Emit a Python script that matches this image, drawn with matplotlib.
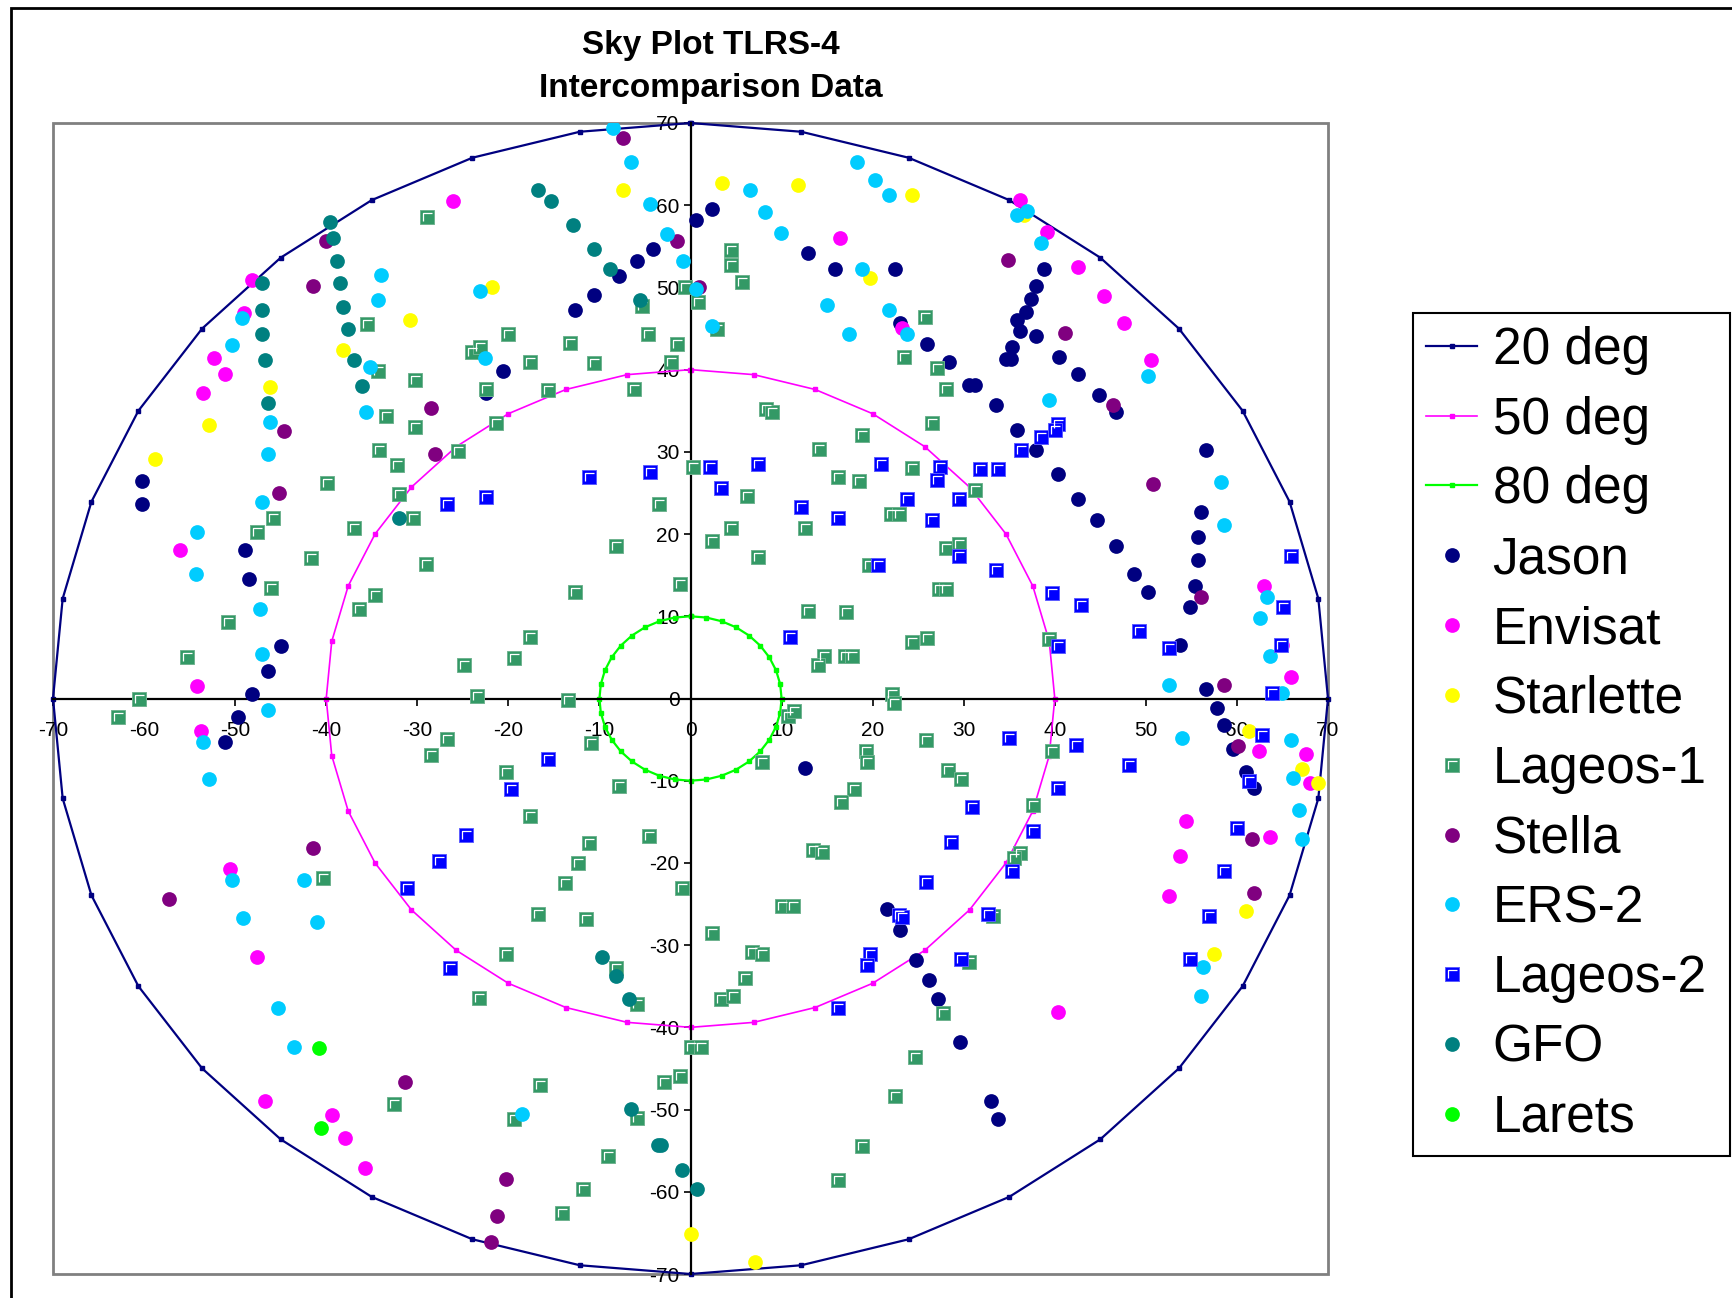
import numpy as np
import matplotlib
matplotlib.use('Agg')
import matplotlib.pyplot as plt
from matplotlib.path import Path
from matplotlib.patches import Rectangle

plt.rcParams['font.family'] = ['Liberation Sans', 'DejaVu Sans']
plt.rcParams['axes.unicode_minus'] = False

# elevation mask rings: radius on the plot is 90 - elevation, vertices every 10 deg azimuth
mask_elev = [20, 50, 80]
mask_names = ['20 deg', '50 deg', '80 deg']
mask_colors = ['#000080', '#FF00FF', '#00FF00']
mask_widths = [1.6, 1.2, 1.6]
azimuth = np.arange(0, 361, 10)

# pass points (x = east, y = north)
jason_x = [-60.2, -60.2, -48.9, -48.5, -45.0, -46.4, -48.2, -22.5,
           0.6, 2.4, -4.1, -5.9, -7.9, -10.6, -12.7, -20.6, 12.9, 15.9, 22.4, 23.0,
           38.8, 37.9, 37.4, 36.8, 35.9, 36.2, 37.9, 35.3, 34.6, 35.2, 40.5, 42.6, 44.9, 46.7,
           26.0, 28.4, 30.6, 31.2, 33.5, 35.9, 37.9, 40.3, 42.6, 44.6, 46.7, 48.7, 50.2,
           56.6, 56.0, 55.7, 55.7, 55.4, 54.9, 53.8, 56.6,
           -49.7, -51.1, 12.6, 21.6, 23.0,
           24.8, 26.2, 27.2, 29.6, 33.0, 33.8, 57.8, 58.6, 59.6, 61.0, 61.9]
jason_y = [26.5, 23.6, 18.1, 14.5, 6.4, 3.4, 0.6, 37.2,
           58.2, 59.5, 54.7, 53.2, 51.4, 49.1, 47.2, 39.8, 54.2, 52.2, 52.2, 45.7,
           52.2, 50.2, 48.6, 47.0, 46.0, 44.7, 44.1, 42.8, 41.3, 41.3, 41.5, 39.5, 36.9, 34.8,
           43.1, 40.9, 38.1, 38.1, 35.7, 32.7, 30.2, 27.3, 24.3, 21.7, 18.5, 15.2, 13.0,
           30.2, 22.7, 19.6, 16.9, 13.7, 11.1, 6.5, 1.2,
           -2.2, -5.3, -8.4, -25.6, -28.2,
           -31.8, -34.3, -36.6, -41.8, -49.0, -51.1, -1.2, -3.2, -6.1, -8.9, -10.9]

envisat_x = [-26.1, -48.2, -49.0, -52.3, -51.1, -53.5, -56.1, -54.2,
             16.4, 23.2, 36.2, 39.1, 42.6, 45.4, 47.6, 50.6, 63.0, 64.9, 65.9,
             -53.8, -50.6, -47.6, -46.7, -39.4, -37.9, -35.7,
             62.4, 67.6, 68.0, 54.4, 53.7, 63.6, 52.5, 40.3]
envisat_y = [60.5, 50.9, 46.9, 41.4, 39.5, 37.2, 18.1, 1.5,
             56.0, 45.1, 60.6, 56.7, 52.5, 48.9, 45.7, 41.2, 13.7, 6.5, 2.6,
             -3.9, -20.7, -31.5, -49.0, -50.6, -53.4, -57.1,
             -6.4, -6.8, -10.3, -14.9, -19.1, -16.8, -24.0, -38.1]

starlette_x = [-30.8, -38.2, -46.2, -52.9, -58.8, -7.4, -21.8, 3.5, 11.8, 19.7, 24.3, 36.6,
               0.0, 7.1, 61.3, 67.1, 68.9, 61.0, 57.5]
starlette_y = [46.0, 42.4, 37.9, 33.3, 29.1, 61.9, 50.0, 62.7, 62.4, 51.1, 61.2, 58.8,
               -65.1, -68.6, -3.9, -8.6, -10.3, -25.9, -31.1]

lageos1_x = [-28.9, -35.5, -34.3, -30.2, -33.4, -30.2, -34.2, -32.2, -25.5, -39.9, -32.0,
             -30.5, -45.8, -47.6, -37.0, -41.7, -29.0, -46.1, -34.6, -36.4, -50.8, -55.3,
             -60.6, -24.9, -23.4, -24.0, -23.1, -22.5,
             4.4, 4.4, 5.6, -0.6, 0.8, -5.3, 2.9, -20.0, -13.2, -4.7, -1.5, -17.6, -10.6,
             -2.1, -15.6, -6.2, -21.4, 8.3, 8.9, 18.8, 14.1, 0.3, 24.3, 16.2, 18.5, 6.2,
             -3.5, 22.0, 22.9, 4.4, 12.6, 2.4, -8.2, 7.4, 19.6, -1.2, -12.7, 12.9, 17.1,
             -17.6, 24.3, -19.4, 14.7, 14.0, 17.0, 17.7, -13.5, 22.1, 22.3,
             25.7, 23.4, 27.1, 28.0, 26.5, 31.2, 28.1, 29.5, 27.3, 28.1, 26.0, 39.4,
             -62.9, -26.7, -28.5, -40.3, -23.2, -32.6,
             -10.9, -20.3, -7.9, -17.6, -11.1, -4.6, -12.4, -13.8, -0.9, -16.8, -11.5,
             -20.3, -8.2, -5.9, 2.4, 6.7, 7.9, 6.0, 3.4, 4.7, 7.9, 10.7, 11.4, 19.3, 19.4,
             17.9, 16.5, 13.5, 14.4, 10.0, 11.2, 0.1, 1.2, -1.2, -2.9, -16.5, -19.4, -5.9,
             -9.1, -11.8, -14.1, 24.7, 22.4, 18.8, 16.2,
             25.9, 28.3, 29.7, 39.7, 37.6, 36.2, 35.5, 33.2, 30.6, 27.7]
lageos1_y = [58.6, 45.5, 39.8, 38.8, 34.4, 33.0, 30.2, 28.4, 30.1, 26.2, 24.9,
             21.9, 21.9, 20.3, 20.7, 17.1, 16.4, 13.5, 12.6, 10.9, 9.3, 5.1,
             -0.1, 4.1, 0.3, 42.1, 42.8, 37.7,
             54.6, 52.7, 50.7, 50.1, 48.2, 47.8, 45.0, 44.3, 43.3, 44.3, 43.1, 40.9, 40.8,
             40.9, 37.5, 37.7, 33.5, 35.2, 34.9, 32.0, 30.4, 28.2, 28.0, 27.0, 26.5, 24.6,
             23.6, 22.5, 22.5, 20.7, 20.7, 19.2, 18.5, 17.2, 16.2, 13.9, 13.0, 10.7, 10.5,
             7.5, 6.9, 4.9, 5.2, 4.1, 5.2, 5.2, -0.2, 0.5, -0.5,
             46.4, 41.5, 40.2, 37.6, 33.5, 25.3, 18.3, 18.8, 13.3, 13.3, 7.4, 7.2,
             -2.3, -4.9, -6.9, -21.8, -36.4, -49.3,
             -5.4, -9.0, -10.7, -14.3, -17.6, -16.7, -20.0, -22.4, -23.0, -26.2, -26.8,
             -31.1, -32.8, -37.1, -28.5, -30.8, -31.1, -34.0, -36.6, -36.2, -7.7, -2.1, -1.5,
             -6.4, -7.7, -11.0, -12.6, -18.4, -18.7, -25.2, -25.2, -42.4, -42.4, -45.9, -46.7,
             -47.0, -51.2, -51.0, -55.6, -59.7, -62.6, -43.6, -48.3, -54.4, -58.6,
             -5.1, -8.7, -9.8, -6.4, -12.9, -18.8, -19.4, -26.5, -32.0, -38.2]

stella_x = [-40.0, -41.4, -44.6, -45.2, -28.5, -28.1, -7.4, -1.5, 0.9,
            34.9, 41.1, 46.4, 50.8, 56.0, 58.6, -41.4, -57.3, -31.4,
            -20.3, -21.2, -21.9, 60.1, 61.6, 61.9]
stella_y = [55.7, 50.2, 32.5, 25.0, 35.3, 29.8, 68.2, 55.6, 50.1,
            53.3, 44.4, 35.7, 26.1, 12.4, 1.7, -18.2, -24.4, -46.7,
            -58.4, -63.0, -66.1, -5.8, -17.1, -23.6]

ers2_x = [-34.0, -34.3, -23.1, -49.3, -50.3, -22.6, -35.2, -35.6, -46.2, -46.4, -47.0,
          -54.2, -54.3, -47.3, -47.0,
          -8.5, -6.5, -4.5, -2.6, -0.8, 0.6, 2.4, 6.5, 8.2, 9.9, 18.3, 20.3, 21.8, 18.8,
          15.0, 21.8, 17.4, 23.8,
          37.0, 35.9, 38.5, 50.2, 39.4, 58.3, 58.6, 63.3, 62.5, 63.6, 52.5, 64.9,
          -46.4, -53.5, -52.9, -50.3, -42.4, -49.1, -41.0, -45.3, -43.5, -18.5,
          54.0, 65.9, 66.2, 66.8, 67.1, 56.3, 56.0]
ers2_y = [51.5, 48.5, 49.6, 46.3, 43.0, 41.4, 40.3, 34.9, 33.6, 29.7, 23.9,
          20.3, 15.2, 10.9, 5.4,
          69.4, 65.3, 60.1, 56.5, 53.2, 49.8, 45.3, 61.9, 59.2, 56.6, 65.3, 63.1, 61.2, 52.2,
          47.9, 47.2, 44.3, 44.3,
          59.3, 58.8, 55.4, 39.2, 36.3, 26.3, 21.1, 12.4, 9.8, 5.2, 1.7, 0.7,
          -1.4, -5.3, -9.8, -22.1, -22.1, -26.7, -27.2, -37.7, -42.4, -50.5,
          -4.8, -5.1, -9.7, -13.6, -17.1, -32.7, -36.2]

lageos2_x = [-26.7, -22.5, -11.2, -4.4, 2.1, 7.4, 3.4, 12.1, 16.2, 20.9, 23.8, 20.6, 10.9,
             40.3, 40.0, 38.5, 36.3, 27.4, 31.8, 33.8, 27.1, 29.5, 26.5, 29.5, 33.5, 39.7,
             42.9, 49.3, 52.5, 65.9, 65.1, 64.8, 40.3, 63.9,
             -24.7, -27.6, -31.1, -26.4, -15.6, -19.7, 22.9, 23.2, 19.7, 19.4, 16.2,
             35.0, 42.3, 48.1, 40.3, 30.9, 37.6, 28.6, 35.3, 25.9, 32.7, 29.7,
             62.7, 61.3, 60.0, 58.6, 56.9, 54.9]
lageos2_y = [23.6, 24.5, 26.9, 27.5, 28.2, 28.5, 25.6, 23.3, 22.0, 28.5, 24.3, 16.2, 7.5,
             33.4, 32.7, 31.8, 30.2, 28.2, 27.9, 27.9, 26.6, 24.3, 21.7, 17.3, 15.6, 12.8,
             11.4, 8.2, 6.2, 17.3, 11.1, 6.5, 6.4, 0.7,
             -16.6, -19.8, -23.1, -32.8, -7.4, -11.0, -26.3, -26.6, -31.1, -32.4, -37.6,
             -4.8, -5.6, -8.1, -10.9, -13.2, -16.1, -17.4, -21.0, -22.3, -26.2, -31.7,
             -4.4, -10.0, -15.8, -21.0, -26.5, -31.7]

gfo_x = [-39.6, -39.3, -38.8, -38.5, -38.2, -37.6, -37.0, -36.1, -47.0, -47.0, -47.0,
         -46.7, -46.4, -32.0, -16.7, -15.3, -12.9, -10.6, -8.8, -5.6,
         -9.7, -8.2, -6.8, -6.5, -3.6, -3.2, -0.9, 0.7]
gfo_y = [58.0, 56.0, 53.2, 50.5, 47.6, 45.0, 41.2, 38.0, 50.5, 47.3, 44.3,
         41.2, 35.9, 21.9, 61.9, 60.5, 57.6, 54.7, 52.2, 48.5,
         -31.4, -33.7, -36.6, -49.9, -54.3, -54.3, -57.4, -59.7]

larets_x = [-40.8, -40.6]
larets_y = [-42.5, -52.2]

# name, x, y, colour, marker
series = [
    ('Jason', jason_x, jason_y, '#000080', 'o'),
    ('Envisat', envisat_x, envisat_y, '#FF00FF', 'o'),
    ('Starlette', starlette_x, starlette_y, '#FFFF00', 'o'),
    ('Lageos-1', lageos1_x, lageos1_y, '#339966', 's'),
    ('Stella', stella_x, stella_y, '#800080', 'o'),
    ('ERS-2', ers2_x, ers2_y, '#00CCFF', 'o'),
    ('Lageos-2', lageos2_x, lageos2_y, '#0000FF', 's'),
    ('GFO', gfo_x, gfo_y, '#008080', 'o'),
    ('Larets', larets_x, larets_y, '#00FF00', 'o'),
]
square_edge = {'#339966': '#6fb38f', '#0000FF': '#5c5cff'}

# white corner drawn inside the Excel-style square markers
corner = Path([(-0.8, -0.7), (-0.8, 0.85), (1.0, 0.85)],
              [Path.MOVETO, Path.LINETO, Path.LINETO])

W, H = 1733, 1298
fig = plt.figure(figsize=(W / 100, H / 100), dpi=100)
ax = fig.add_axes([53 / W, 1 - 1274 / H, (1328 - 53) / W, (1274 - 123) / H])

handles, labels = [], []
for elev, name, col, lw in zip(mask_elev, mask_names, mask_colors, mask_widths):
    r = 90 - elev
    az = np.radians(azimuth)
    ln, = ax.plot(r * np.sin(az), r * np.cos(az), color=col, lw=lw, marker='s',
                  ms=3, mec=col, clip_on=False, zorder=2)
    handles.append(ln)
    labels.append(name)

for name, xs, ys, col, mk in series:
    if mk == 's':
        sq, = ax.plot(xs, ys, ls='none', marker='s', ms=10.3, mfc=col,
                      mec=square_edge[col], mew=0.7, zorder=3)
        cn, = ax.plot(xs, ys, ls='none', marker=corner, ms=7.2, mfc='none',
                      mec='white', mew=0.9, zorder=3)
        handles.append((sq, cn))
    else:
        pt, = ax.plot(xs, ys, ls='none', marker='o', ms=10.6, mfc=col, mec='none',
                      zorder=3)
        handles.append(pt)
    labels.append(name)

ax.set_xlim(-70, 70)
ax.set_ylim(-70, 70)
ax.set_xticks(np.arange(-70, 71, 10))
ax.set_yticks(np.arange(-70, 71, 10))
ax.spines['left'].set_position(('data', 0))
ax.spines['bottom'].set_position(('data', 0))
ax.spines['top'].set_visible(False)
ax.spines['right'].set_visible(False)
for s in ('left', 'bottom'):
    ax.spines[s].set_linewidth(1.6)
    ax.spines[s].set_zorder(2.5)
ax.tick_params(axis='both', direction='out', length=5, width=1.2, labelsize=15)
ax.tick_params(axis='x', pad=11)
ax.tick_params(axis='y', pad=3)
ax.add_patch(Rectangle((0, 0), 1, 1, transform=ax.transAxes, fill=False,
                       ec='#808080', lw=2, clip_on=False, zorder=1))

fig.text(711 / W, 1 - 67 / H, 'Sky Plot TLRS-4\nIntercomparison Data', ha='center',
         va='center', fontsize=24, fontweight='bold', linespacing=1.5)

fig.add_artist(Rectangle((11 / W, -0.1), 1.2, 1.1 - 8 / H, transform=fig.transFigure,
                         fill=False, ec='black', lw=2))

leg = fig.legend(handles, labels, loc='upper left',
                 bbox_to_anchor=(1413 / W, 1 - 313 / H, (1730 - 1413) / W, 0),
                 mode='expand', borderaxespad=0, fontsize=37, frameon=True,
                 fancybox=False, edgecolor='black', framealpha=1, numpoints=1,
                 handlelength=1.0, handletextpad=0.3, labelspacing=0.405,
                 borderpad=0.25)
leg.get_frame().set_linewidth(1.5)

fig.savefig('out.png', dpi=100)
